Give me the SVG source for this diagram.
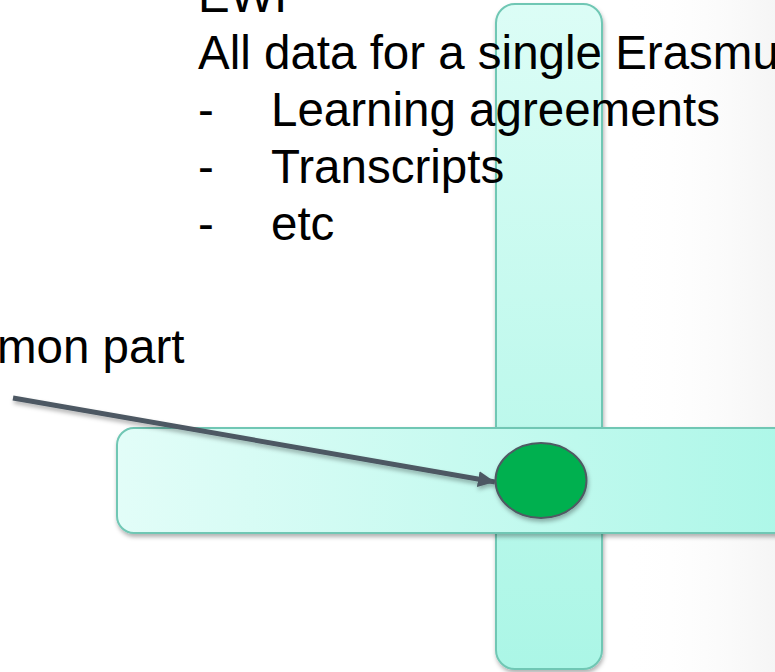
<svg xmlns="http://www.w3.org/2000/svg" width="775" height="672" viewBox="0 0 775 672">
  <defs>
    <style>
      .txt { font-family: "Liberation Sans", Arial, sans-serif; font-size: 47.5px; fill: #000000; }
      .bar { stroke: #6fc7b4; stroke-width: 2; }
      .conn { stroke: #4d5963; stroke-width: 5; fill: none; stroke-linecap: butt; }
    </style>
    <linearGradient id="gH" x1="0" y1="0" x2="1" y2="0">
      <stop offset="0" stop-color="#e2fdf8"/>
      <stop offset="1" stop-color="#adf7e8"/>
    </linearGradient>
    <linearGradient id="gV" x1="0" y1="0" x2="0" y2="1">
      <stop offset="0" stop-color="#dcfdf6"/>
      <stop offset="1" stop-color="#abf6e6"/>
    </linearGradient>
    <linearGradient id="gBg" x1="0" y1="0" x2="1" y2="0">
      <stop offset="0" stop-color="#ffffff" stop-opacity="0"/>
      <stop offset="1" stop-color="#f5f5f5" stop-opacity="1"/>
    </linearGradient>
    <filter id="sh" x="-10%" y="-10%" width="130%" height="130%">
      <feDropShadow dx="1" dy="3" stdDeviation="2.2" flood-color="#000000" flood-opacity="0.3"/>
    </filter>
    <marker id="ah" markerUnits="userSpaceOnUse" markerWidth="20" markerHeight="18" refX="17" refY="8" orient="auto">
      <path d="M0,0 L17,8 L0,16 Z" fill="#4d5963"/>
    </marker>
  </defs>

  <rect x="0" y="0" width="775" height="672" fill="#ffffff"/>
  <rect x="620" y="0" width="155" height="672" fill="url(#gBg)"/>

  <g id="vertical-bar">
    <rect class="bar" x="496" y="4" width="106" height="665" rx="19" ry="19" fill="url(#gV)" filter="url(#sh)"/>
  </g>

  <g id="horizontal-bar">
    <rect class="bar" x="117" y="428" width="675" height="105" rx="17" ry="17" fill="url(#gH)" filter="url(#sh)"/>
  </g>

  <g id="connectors">
    <line class="conn" x1="13" y1="398" x2="495" y2="482" marker-end="url(#ah)" filter="url(#sh)"/>
  </g>

  <g id="common-part">
    <ellipse cx="541" cy="480.5" rx="45.5" ry="37.5" fill="#00b050" stroke="#4f5a63" stroke-width="2" filter="url(#sh)"/>
  </g>

  <g id="ewi-text">
    <text class="txt" x="198" y="12">EWP</text>
    <text class="txt" x="198" y="69">All data for a single Erasmu</text>
    <text class="txt" x="198" y="126">-</text>
    <text class="txt" x="271" y="126">Learning agreements</text>
    <text class="txt" x="198" y="183">-</text>
    <text class="txt" x="271" y="183">Transcripts</text>
    <text class="txt" x="198" y="240">-</text>
    <text class="txt" x="271" y="240">etc</text>
  </g>

  <g id="common-label">
    <text class="txt" x="-3" y="363">mon part</text>
  </g>
</svg>
